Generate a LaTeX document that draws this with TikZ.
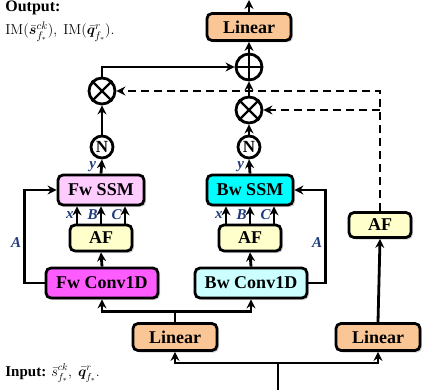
\documentclass[tikz,border=0pt]{standalone}
\usepackage[no-math]{fontspec}
\usepackage{amsmath,amssymb,bm}
\usepackage{xcolor}
\setmainfont{Liberation Serif}
\usetikzlibrary{positioning,calc,arrows.meta,shadows}

\definecolor{lincol}{RGB}{250,198,150}
\definecolor{fwssmcol}{RGB}{255,204,255}
\definecolor{bwssmcol}{RGB}{0,255,255}
\definecolor{afcol}{RGB}{255,255,204}
\definecolor{fwconvcol}{RGB}{255,92,255}
\definecolor{bwconvcol}{RGB}{204,255,255}
\definecolor{labcol}{RGB}{31,58,122}

\begin{document}
\begin{tikzpicture}[x=1pt,y=-1pt, line width=2.8pt,
    >={Stealth[length=9pt,width=9pt]},
    blk/.style={draw, rounded corners=5pt, inner sep=0pt, font=\fontsize{18}{20}\selectfont\bfseries,
        drop shadow={shadow xshift=2pt,shadow yshift=-2pt,opacity=0.35}},
    linbox/.style={blk, fill=lincol, minimum width=84pt, minimum height=27pt},
    ssmbox/.style={blk, minimum width=86pt, minimum height=30pt},
    afbox/.style={blk, fill=afcol, minimum width=62pt, minimum height=26pt},
    convbox/.style={blk, minimum width=112pt, minimum height=30pt},
    opc/.style={draw, circle, inner sep=0pt, minimum size=26pt},
    normc/.style={draw, circle, inner sep=0pt, minimum size=22pt, font=\fontsize{17}{19}\selectfont\bfseries},
    lab/.style={font=\fontsize{15}{17}\selectfont\itshape\bfseries, text=labcol, inner sep=2pt}]
    \useasboundingbox (0,0) rectangle (422,390);

    % texts
    \node[anchor=north west, align=left, inner sep=0pt] (outtxt) at (4,0)
        {\fontsize{16}{18}\selectfont\bfseries Output:\\[5pt]
         \fontsize{15}{17}\selectfont $\mathrm{IM}(\bar{\bm{s}}^{ck}_{f_*}),\ \mathrm{IM}(\bar{\bm{q}}^{r}_{f_*}).$};
    \node[anchor=west, inner sep=0pt] (intxt) at (4,373)
        {\fontsize{15}{17}\selectfont\bfseries Input: \normalfont\fontsize{14}{16}\selectfont $\bar{s}^{ck}_{f_*},\ \bar{\bm{q}}^{r}_{f_*}.$};

    % top
    \coordinate (out) at (249,0);
    \node[linbox] (lintop) at (249,27) {Linear};
    \node[opc] (plus) at (249,67) {};
    \draw[line width=2.2pt] (plus.north) -- (plus.south) (plus.west) -- (plus.east);
    \node[opc] (mulbw) at (249,110) {};
    \node[opc] (mulfw) at (102,91) {};
    \foreach \m in {mulbw, mulfw} {
        \draw[line width=2.2pt] (\m.north east) -- (\m.south west) (\m.north west) -- (\m.south east);
    }
    \node[normc] (nbw) at (249,147) {N};
    \node[normc] (nfw) at (102,147) {N};

    % branches
    \node[ssmbox, fill=fwssmcol] (fwssm) at (101,190) {Fw SSM};
    \node[afbox] (affw) at (101,238) {AF};
    \node[convbox, fill=fwconvcol] (fwconv) at (102,283) {Fw Conv1D};
    \node[ssmbox, fill=bwssmcol] (bwssm) at (250,190) {Bw SSM};
    \node[afbox] (afbw) at (250,238) {AF};
    \node[convbox, fill=bwconvcol] (bwconv) at (251,283) {Bw Conv1D};
    \node[afbox, minimum height=25pt] (afr) at (380,225) {AF};

    % bottom
    \node[linbox] (linl) at (175,337) {Linear};
    \node[linbox] (linr) at (378,337) {Linear};
    \coordinate (in) at (278,390);

    \draw[->] (lintop.north) -- (out);
    \draw[->] (plus.north) -- (lintop.south);
    \draw[->] (mulbw.north) -- (plus.south);
    \draw[->] (nbw.north) -- (mulbw.south);
    \draw[->] (nfw.north) -- (mulfw.south);
    \draw[->] (mulfw.north) |- (plus.west);
    \draw[->] (fwssm.north) -- (nfw.south) node[lab, midway, left, xshift=-2pt] {y};
    \draw[->] (bwssm.north) -- (nbw.south) node[lab, midway, left, xshift=-2pt] {y};

    \foreach \ssm/\af in {fwssm/affw, bwssm/afbw} {
        \foreach \dx/\t in {-24/x, 0/B, 24/C} {
            \draw[->] ([xshift=\dx pt]\af.north) -- ([xshift=\dx pt]\ssm.south) node[lab, midway, left] {\t};
        }
    }
    \draw[->] (fwconv.north) -- (affw.south);
    \draw[->] (bwconv.north) -- (afbw.south);
    \draw[->] (fwconv.west) -- ++(-20,0) |- (fwssm.west) node[lab, pos=0.22, left] {A};
    \draw[->] (bwconv.east) -- ++(17,0) |- (bwssm.east) node[lab, pos=0.22, left] {A};

    % dashed gates
    \draw[->, dashed, dash pattern=on 8pt off 5pt] (afr.north) |- (mulfw.east);
    \draw[->, dashed, dash pattern=on 8pt off 5pt] (afr.north |- mulbw) -- (mulbw.east);

    \draw (linl.north) -- ++(0,-11) coordinate (splt);
    \draw[->] (splt) -| (fwconv.south);
    \draw[->] (splt) -| (bwconv.south);
    \draw[->] (linr.north) -- (afr.south);
    \draw (in) -- ++(0,-27) coordinate (insplt);
    \draw[->] (insplt) -| (linl.south);
    \draw[->] (insplt) -| (linr.south);
\end{tikzpicture}
\end{document}
